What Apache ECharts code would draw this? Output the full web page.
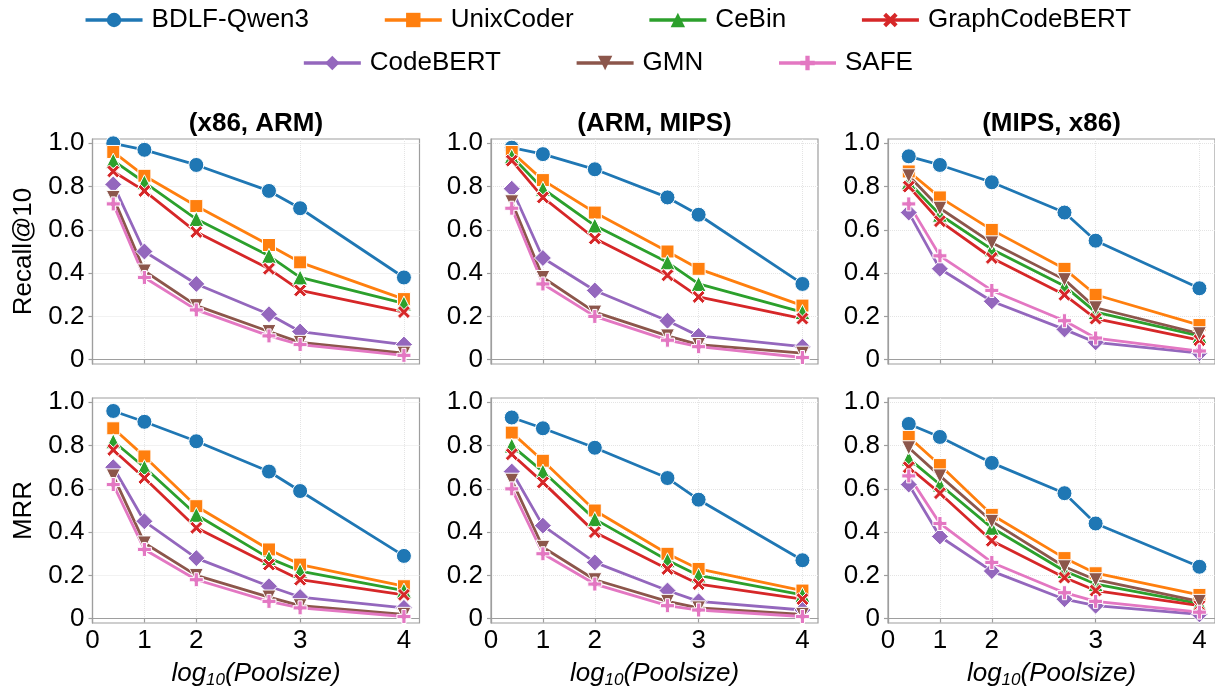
<!DOCTYPE html>
<html>
<head>
<meta charset="utf-8">
<script src="https://cdn.jsdelivr.net/npm/echarts@6/dist/echarts.min.js"></script>
<style>
  html, body { margin: 0; padding: 0; background: #fff; }
  #main { width: 1215px; height: 694px; }
</style>
</head>
<body>
<div id="main"></div>
<script>
// x positions of the pool sizes on the (stretched) log axis, and tick positions/labels
const poolPos = [0.4, 1, 2, 3.4, 4, 6];
const xTickPos = [0, 1, 2, 4, 6];
const xTickLabels = ['0', '1', '2', '3', '4'];
const yTicks = [0, 0.2, 0.4, 0.6, 0.8, 1.0];

const methods = ['BDLF-Qwen3', 'UnixCoder', 'CeBin', 'GraphCodeBERT', 'CodeBERT', 'GMN', 'SAFE'];
const colors = ['#1f77b4', '#ff7f0e', '#2ca02c', '#d62728', '#9467bd', '#8c564b', '#e377c2'];
const pairs = ['(x86, ARM)', '(ARM, MIPS)', '(MIPS, x86)'];

// rows follow methods order
const recallX86Arm = [
  [1.00, 0.97, 0.90, 0.78, 0.70, 0.38],
  [0.96, 0.85, 0.71, 0.53, 0.45, 0.28],
  [0.92, 0.82, 0.65, 0.48, 0.38, 0.26],
  [0.87, 0.78, 0.59, 0.42, 0.32, 0.22],
  [0.81, 0.50, 0.35, 0.21, 0.13, 0.07],
  [0.75, 0.41, 0.25, 0.13, 0.08, 0.03],
  [0.72, 0.38, 0.23, 0.11, 0.07, 0.02]
];
const recallArmMips = [
  [0.98, 0.95, 0.88, 0.75, 0.67, 0.35],
  [0.96, 0.83, 0.68, 0.50, 0.42, 0.25],
  [0.94, 0.79, 0.62, 0.45, 0.35, 0.22],
  [0.92, 0.75, 0.56, 0.39, 0.29, 0.19],
  [0.79, 0.47, 0.32, 0.18, 0.11, 0.06],
  [0.73, 0.38, 0.22, 0.11, 0.07, 0.03],
  [0.70, 0.35, 0.20, 0.09, 0.06, 0.01]
];
const recallMipsX86 = [
  [0.94, 0.90, 0.82, 0.68, 0.55, 0.33],
  [0.87, 0.75, 0.60, 0.42, 0.30, 0.16],
  [0.82, 0.67, 0.51, 0.34, 0.22, 0.11],
  [0.80, 0.64, 0.47, 0.30, 0.19, 0.09],
  [0.68, 0.42, 0.27, 0.14, 0.08, 0.03],
  [0.85, 0.70, 0.54, 0.37, 0.24, 0.12],
  [0.72, 0.48, 0.32, 0.18, 0.10, 0.04]
];
const mrrX86Arm = [
  [0.96, 0.91, 0.82, 0.68, 0.59, 0.29],
  [0.88, 0.75, 0.52, 0.32, 0.25, 0.15],
  [0.82, 0.70, 0.48, 0.28, 0.22, 0.13],
  [0.78, 0.65, 0.42, 0.25, 0.18, 0.11],
  [0.70, 0.45, 0.28, 0.15, 0.10, 0.05],
  [0.66, 0.35, 0.20, 0.10, 0.06, 0.02],
  [0.62, 0.32, 0.18, 0.08, 0.05, 0.01]
];
const mrrArmMips = [
  [0.93, 0.88, 0.79, 0.65, 0.55, 0.27],
  [0.86, 0.73, 0.50, 0.30, 0.23, 0.13],
  [0.80, 0.68, 0.46, 0.27, 0.20, 0.11],
  [0.76, 0.63, 0.40, 0.23, 0.16, 0.09],
  [0.68, 0.43, 0.26, 0.13, 0.08, 0.04],
  [0.64, 0.33, 0.18, 0.08, 0.05, 0.02],
  [0.60, 0.30, 0.16, 0.06, 0.04, 0.01]
];
const mrrMipsX86 = [
  [0.90, 0.84, 0.72, 0.58, 0.44, 0.24],
  [0.84, 0.71, 0.48, 0.28, 0.21, 0.11],
  [0.74, 0.62, 0.42, 0.22, 0.16, 0.07],
  [0.70, 0.58, 0.36, 0.19, 0.13, 0.06],
  [0.62, 0.38, 0.22, 0.09, 0.06, 0.02],
  [0.79, 0.66, 0.45, 0.24, 0.18, 0.08],
  [0.66, 0.44, 0.26, 0.12, 0.08, 0.03]
];

const panels = [recallX86Arm, recallArmMips, recallMipsX86, mrrX86Arm, mrrArmMips, mrrMipsX86];

const symbols = [
  'circle',
  'rect',
  'triangle',
  'path://M2,0 L5,3 L8,0 L10,2 L7,5 L10,8 L8,10 L5,7 L2,10 L0,8 L3,5 L0,2 Z',
  'diamond',
  'path://M0,0 L10,0 L5,9 Z',
  'path://M3.5,0 H6.5 V3.5 H10 V6.5 H6.5 V10 H3.5 V6.5 H0 V3.5 H3.5 Z'
];
const symbolSizes = [15, 13, 15, 13, 17, 14, 14];

const FONT = 'Liberation Sans, Arial, sans-serif';
const gridLefts = [92.5, 491, 888];
const gridTops = [139, 398];
const frameColor = '#9e9e9e';

let chart = echarts.init(document.getElementById('main'));

let grids = [], xAxes = [], yAxes = [], series = [], graphics = [];
for (let p = 0; p < 6; p++) {
  const row = Math.floor(p / 3), col = p % 3;
  grids.push({
    left: gridLefts[col], top: gridTops[row], width: 327, height: 225,
    show: true, borderColor: frameColor, borderWidth: 1.2,
    outerBoundsMode: 'none'
  });
  xAxes.push({
    type: 'value', gridIndex: p, min: 0, max: 6.3,
    name: row === 1 ? '{i|log}{s|10}{i|(Poolsize)}' : '',
    nameLocation: 'middle', nameGap: 36,
    nameTextStyle: {
      rich: {
        i: { fontSize: 26, fontStyle: 'italic', fontFamily: FONT, color: '#000', lineHeight: 30 },
        s: { fontSize: 17, fontStyle: 'italic', fontFamily: FONT, color: '#000', verticalAlign: 'bottom', lineHeight: 12 }
      }
    },
    axisLine: { show: true, lineStyle: { color: frameColor, width: 1.2 } },
    axisTick: { show: true, length: 4, lineStyle: { color: frameColor, width: 1.2 }, customValues: xTickPos },
    axisLabel: {
      show: row === 1, customValues: xTickPos, margin: 5,
      fontSize: 26, fontFamily: FONT, color: '#000',
      formatter: v => xTickLabels[xTickPos.indexOf(v)]
    },
    splitLine: { show: true, lineStyle: { color: '#e4e4e4', type: 'dotted', width: 1 } }
  });
  yAxes.push({
    type: 'value', gridIndex: p, min: -0.02, max: 1.02,
    name: col === 0 ? (row === 0 ? 'Recall@10' : 'MRR') : '',
    nameLocation: 'middle', nameGap: 56,
    nameTextStyle: { fontSize: 26, fontFamily: FONT, color: '#000' },
    axisLine: { show: true, lineStyle: { color: frameColor, width: 1.2 } },
    axisTick: { show: true, length: 4, lineStyle: { color: frameColor, width: 1.2 }, customValues: yTicks },
    axisLabel: {
      customValues: yTicks, margin: 8,
      fontSize: 26, fontFamily: FONT, color: '#000',
      formatter: v => (v === 0 ? '0' : v.toFixed(1))
    },
    splitLine: { show: true, lineStyle: { color: '#e4e4e4', type: 'dotted', width: 1 } }
  });
  methods.forEach((m, k) => {
    series.push({
      type: 'line', name: m, xAxisIndex: p, yAxisIndex: p,
      data: poolPos.map((x, i) => [x, panels[p][k][i]]),
      symbol: symbols[k], symbolSize: symbolSizes[k],
      color: colors[k],
      lineStyle: { width: 2.8, color: colors[k] },
      itemStyle: { color: colors[k], borderColor: '#fff', borderWidth: 1 },
      emphasis: { disabled: true },
      animation: false
    });
  });
}

for (let c = 0; c < 3; c++) {
  graphics.push({
    type: 'text', x: gridLefts[c] + 163.5, y: 124,
    style: { text: pairs[c], fill: '#000', font: 'bold 26px ' + FONT, textAlign: 'center', textVerticalAlign: 'middle' }
  });
}

const legendText = { fontSize: 26, fontFamily: FONT, color: '#000', padding: [0, 0, 0, 4] };
const legendBase = {
  left: 'center', itemWidth: 57, itemHeight: 18, itemGap: 74,
  textStyle: legendText,
  lineStyle: { width: 3.5 },
  itemStyle: { borderWidth: 0 }
};
chart.setOption({
  animation: false,
  legend: [
    Object.assign({ data: methods.slice(0, 4), top: 2 }, legendBase),
    Object.assign({ data: methods.slice(4), top: 45 }, legendBase)
  ],
  grid: grids,
  xAxis: xAxes,
  yAxis: yAxes,
  graphic: graphics,
  series: series
});
</script>
</body>
</html>
